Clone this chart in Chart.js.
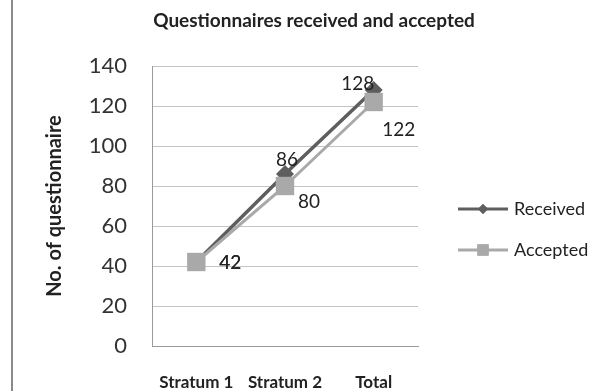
<!DOCTYPE html>
<html>
<head>
<meta charset="utf-8">
<script src="https://cdn.jsdelivr.net/npm/chart.js@4/dist/chart.umd.min.js"></script>
<style>
  html, body { margin: 0; padding: 0; background: #ffffff; }
  #wrap { width: 608px; height: 391px; position: relative; }
</style>
</head>
<body>
<div id="wrap"><canvas id="chart" width="608" height="391"></canvas></div>
<script>
// Survey return counts per stratum
const categories = ['Stratum 1', 'Stratum 2', 'Total'];
const receivedValues = [42, 86, 128];
const acceptedValues = [42, 80, 122];
const yTicks = [0, 20, 40, 60, 80, 100, 120, 140];

const chartTitle = 'Questionnaires received and accepted';
const yAxisTitle = 'No. of questionnaire';

const FONT = 'Lato, "Open Sans", "Noto Sans", sans-serif';
const RECEIVED_COLOR = '#5e5e5e';
const ACCEPTED_COLOR = '#a9a9a9';

// Value labels placed next to each point (pixel offsets from the point)
const labelOffsets = {
  0: [[34, 1], [2, -14], [-16, -6]],
  1: [[34, 1], [24, 16], [25, 28]]
};

const decorations = {
  id: 'decorations',
  afterDraw(chart) {
    const ctx = chart.ctx;
    const area = chart.chartArea;
    ctx.save();

    // page border on the left
    ctx.strokeStyle = '#8a8a8a';
    ctx.lineWidth = 2;
    ctx.beginPath();
    ctx.moveTo(12, 0);
    ctx.lineTo(12, chart.height);
    ctx.stroke();

    // title
    ctx.fillStyle = '#222222';
    ctx.font = 'bold 19px ' + FONT;
    ctx.textAlign = 'center';
    ctx.textBaseline = 'middle';
    ctx.fillText(chartTitle, 314, 21);

    // y-axis title
    ctx.save();
    ctx.translate(55, 206);
    ctx.rotate(-Math.PI / 2);
    ctx.font = 'bold 20px ' + FONT;
    ctx.fillText(yAxisTitle, 0, 0);
    ctx.restore();

    // value labels
    ctx.font = '19px ' + FONT;
    ctx.fillStyle = '#222222';
    chart.data.datasets.forEach((ds, di) => {
      const meta = chart.getDatasetMeta(di);
      meta.data.forEach((pt, i) => {
        const off = labelOffsets[di][i];
        ctx.fillText(String(ds.data[i]), pt.x + off[0], pt.y + off[1]);
      });
    });

    // legend
    const items = [
      { label: 'Received', color: RECEIVED_COLOR, style: 'rectRot', r: 5, y: 209 },
      { label: 'Accepted', color: ACCEPTED_COLOR, style: 'rect', r: 8, y: 250 }
    ];
    items.forEach(it => {
      ctx.strokeStyle = it.color;
      ctx.lineWidth = 3;
      ctx.beginPath();
      ctx.moveTo(458, it.y);
      ctx.lineTo(508, it.y);
      ctx.stroke();
      ctx.fillStyle = it.color;
      Chart.helpers.drawPoint(ctx, { pointStyle: it.style, radius: it.r, borderWidth: 0, rotation: 0 }, 483, it.y);
      ctx.fill();
      ctx.fillStyle = '#222222';
      ctx.font = '18px ' + FONT;
      ctx.textAlign = 'left';
      ctx.fillText(it.label, 514, it.y);
      ctx.textAlign = 'center';
    });

    ctx.restore();
  }
};

new Chart(document.getElementById('chart'), {
  type: 'line',
  data: {
    labels: categories,
    datasets: [
      {
        label: 'Received',
        data: receivedValues,
        borderColor: RECEIVED_COLOR,
        backgroundColor: RECEIVED_COLOR,
        borderWidth: 3.5,
        pointStyle: 'rectRot',
        pointRadius: 9,
        pointBorderWidth: 0,
        order: 2
      },
      {
        label: 'Accepted',
        data: acceptedValues,
        borderColor: ACCEPTED_COLOR,
        backgroundColor: ACCEPTED_COLOR,
        borderWidth: 3,
        pointStyle: 'rect',
        pointRadius: 13,
        pointBorderWidth: 0,
        order: 1
      }
    ]
  },
  options: {
    responsive: false,
    animation: false,
    layout: { padding: { top: 66, right: 190, bottom: 0, left: 0 } },
    plugins: {
      legend: { display: false },
      title: { display: false },
      tooltip: { enabled: false }
    },
    scales: {
      x: {
        offset: true,
        afterFit(s) { s.height = 45; },
        grid: { display: false, drawTicks: false },
        border: { color: '#9a9a9a', width: 1 },
        ticks: {
          padding: 26,
          color: '#222222',
          font: { family: FONT, size: 17, weight: 'bold' }
        }
      },
      y: {
        min: 0,
        max: 140,
        afterFit(s) { s.width = 152; },
        afterBuildTicks(s) { s.ticks = yTicks.map(v => ({ value: v })); },
        grid: { color: '#c4c4c4', lineWidth: 1, drawTicks: false },
        border: { color: '#9a9a9a', width: 1 },
        ticks: {
          padding: 25,
          color: '#333333',
          font: { family: FONT, size: 22 }
        }
      }
    }
  },
  plugins: [decorations]
});
</script>
</body>
</html>
